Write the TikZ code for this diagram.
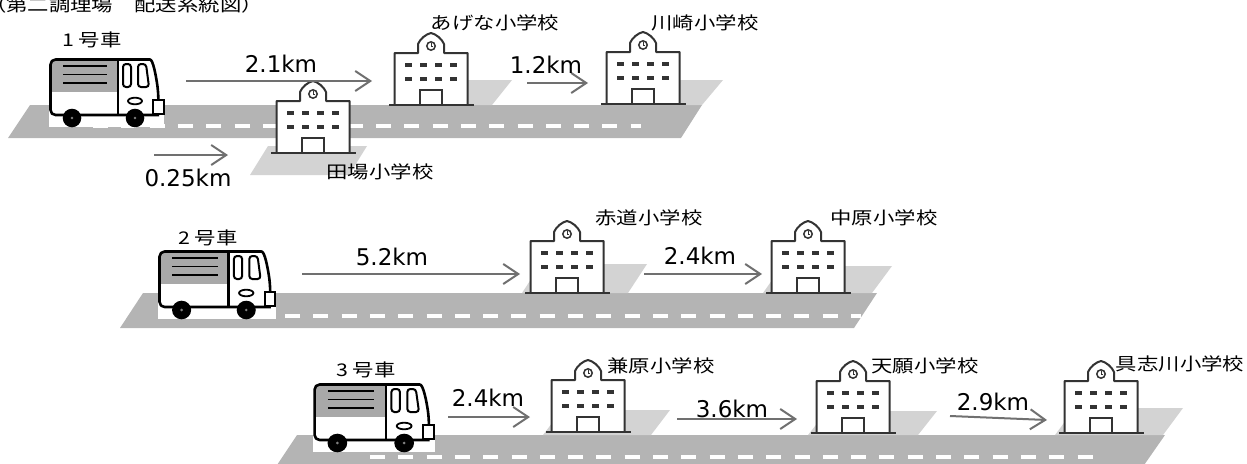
\documentclass[tikz,border=0pt]{standalone}
\usepackage{fontspec}
\usetikzlibrary{arrows.meta}
\newfontfamily\jpfont[FakeStretch=1.22]{Noto Sans CJK JP}
\newfontfamily\kmfont{DejaVu Sans}
\definecolor{roadgray}{HTML}{B4B4B4}
\definecolor{lotgray}{HTML}{D3D3D3}
\definecolor{arrowgray}{HTML}{707070}
\definecolor{ink}{HTML}{333333}
\definecolor{cargogray}{HTML}{A8A8A8}

\tikzset{
  % school building, origin at the middle of its ground line
  school/.pic={
    \draw[ink, line width=2, fill=white, line join=round]
      (-36.5,0) -- (-36.5,-52) -- (-13,-52) -- (-13,-61)
      .. controls (-11,-66) and (-5,-71) .. (0,-72)
      .. controls (5,-71) and (11,-66) .. (13,-61)
      -- (13,-52) -- (36.5,-52) -- (36.5,0);
    \draw[ink, line width=1.5, fill=white] (0,-59) circle (4.2);
    \draw[ink, line width=1] (0,-59) -- (0,-62) (0,-59) -- (2.2,-59);
    \foreach \wx in {-22.5,-7.5,7.5,22.5}
      \foreach \wy in {-40,-26}
        \fill[ink] (\wx-3.5,\wy-2.2) rectangle (\wx+3.5,\wy+2.2);
    \draw[ink, line width=2] (-11,0) -- (-11,-15) -- (11,-15) -- (11,0);
    \draw[ink, line width=2.5] (-42,0) -- (43,0);
  },
  % delivery truck, origin at the top left corner of its white box
  truck/.pic={
    \fill[white] (0,0) rectangle (115,69);
    \fill[cargogray, rounded corners=5] (1.5,1.5) rectangle (69,45);
    \fill[white] (1.5,34) rectangle (69,56);
    \draw[black, line width=1.6] (14,8) -- (58,8) (14,16.5) -- (58,16.5) (14,25) -- (58,25);
    \draw[black, line width=2.6, rounded corners=5, line join=round]
      (110,57) -- (1.5,57) -- (1.5,1.5) -- (96,1.5)
      .. controls (104,1.5) and (107,18) .. (109,32) -- (110,57);
    \draw[black, line width=2.6] (69,1.5) -- (69,57);
    \draw[black, line width=2, rounded corners=3] (74,6) rectangle (82,29);
    \draw[black, line width=2, rounded corners=3] (89,6) -- (97,6) -- (100,29) -- (89,29) -- cycle;
    \draw[black, line width=1.8] (86,43) ellipse [x radius=7, y radius=3.3];
    \draw[black, line width=2, fill=white] (104,42) rectangle (114.5,56);
    \fill[black] (23,60) circle (9.3) (86,60) circle (9.3);
    \fill[gray] (23,60) circle (1.4) (86,60) circle (1.4);
  },
  road/.style={fill=roadgray},
  lot/.style={fill=lotgray},
  lane/.style={white, line width=4.5, dash pattern=on 15 off 13.3},
  dist/.style={arrowgray, line width=2,
    -{Straight Barb[length=15, width=20, line width=2]}},
  kmlabel/.style={font=\kmfont\fontsize{23}{26}\selectfont, inner sep=0},
  jplabel/.style={font=\jpfont\fontsize{17.5}{20}\selectfont, inner sep=0},
}

\begin{document}
\begin{tikzpicture}[x=1pt, y=-1pt]
  \useasboundingbox (0,0) rectangle (1247,463);
  \clip (0,0) rectangle (1247,463);

  % title
  \node[jplabel, anchor=base west] (title) at (-15,11) {（第二調理場　配送系統図）};

  % roads
  \fill[road] (30,105) -- (702,105) -- (681,138) -- (8,138) -- cycle;
  \fill[road] (143,293) -- (877,293) -- (854,328) -- (120,328) -- cycle;
  \fill[road] (297,435) -- (1165,435) -- (1142,468) -- (275,468) -- cycle;

  % school lots
  \fill[lot] (400,80) -- (512,80) -- (492,105) -- (400,105) -- cycle;
  \fill[lot] (612,80) -- (723,80) -- (702,105) -- (612,105) -- cycle;
  \fill[lot] (268,146) -- (367,146) -- (349,175) -- (250,175) -- cycle;
  \fill[lot] (541,264) -- (647,264) -- (628,293) -- (522,293) -- cycle;
  \fill[lot] (782,266) -- (892,266) -- (872,293) -- (763,293) -- cycle;
  \fill[lot] (562,410) -- (670,410) -- (651,435) -- (543,435) -- cycle;
  \fill[lot] (827,411) -- (937,411) -- (918,435) -- (808,435) -- cycle;
  \fill[lot] (1075,408) -- (1183,408) -- (1163,435) -- (1055,435) -- cycle;

  % lane markings
  \draw[lane] (93,126) -- (641,126);
  \draw[lane] (285,316) -- (861,316);
  \draw[lane] (370,457) -- (1103,457);

  % schools
  \pic (tabaS)   at (313,153) {school};
  \pic (agenaS)  at (431,105) {school};
  \pic (kawaS)   at (643,104) {school};
  \pic (akamS)   at (567,293) {school};
  \pic (nakaS)   at (808,293) {school};
  \pic (kanebS)  at (588,432) {school};
  \pic (tengS)   at (853,433) {school};
  \pic (gushS)   at (1101,433) {school};

  % trucks
  \pic (truckA) at (49,58) {truck};
  \pic[xscale=1.026] (truckB) at (158,250) {truck};
  \pic[xscale=1.06] (truckC) at (313,383) {truck};

  % distance arrows
  \coordinate (a1s) at (186,81);  \coordinate (a1e) at (372,81);
  \coordinate (a2s) at (527,83);  \coordinate (a2e) at (588,83);
  \coordinate (a3s) at (154,155); \coordinate (a3e) at (228,155);
  \coordinate (b1s) at (302,274); \coordinate (b1e) at (520,274);
  \coordinate (b2s) at (644,274); \coordinate (b2e) at (762,274);
  \coordinate (c1s) at (448,417); \coordinate (c1e) at (530,417);
  \coordinate (c2s) at (677,419); \coordinate (c2e) at (797,419);
  \coordinate (c3s) at (950,416); \coordinate (c3e) at (1047,420);
  \draw[dist] (a1s) -- (a1e);
  \draw[dist] (a2s) -- (a2e);
  \draw[dist] (a3s) -- (a3e);
  \draw[dist] (b1s) -- (b1e);
  \draw[dist] (b2s) -- (b2e);
  \draw[dist] (c1s) -- (c1e);
  \draw[dist] (c2s) -- (c2e);
  \draw[dist] (c3s) -- (c3e);

  % distance labels
  \node[kmlabel] (d1) at (281,64) {2.1km};
  \node[kmlabel] (d2) at (546,65) {1.2km};
  \node[kmlabel] (d3) at (188,178) {0.25km};
  \node[kmlabel] (d4) at (392,257) {5.2km};
  \node[kmlabel] (d5) at (700,256) {2.4km};
  \node[kmlabel] (d6) at (488,398) {2.4km};
  \node[kmlabel] (d7) at (732,409) {3.6km};
  \node[kmlabel] (d8) at (993,402) {2.9km};

  % truck and school names
  \node[jplabel] (n1) at (92,40) {1 号車};
  \node[jplabel] (n2) at (208,238) {2 号車};
  \node[jplabel] (n3) at (366,370) {3 号車};
  \node[jplabel] (s1) at (495,23) {あげな小学校};
  \node[jplabel] (s2) at (705,23) {川崎小学校};
  \node[jplabel] (s3) at (380,172) {田場小学校};
  \node[jplabel] (s4) at (649,218) {赤道小学校};
  \node[jplabel] (s5) at (884,218) {中原小学校};
  \node[jplabel] (s6) at (661,366) {兼原小学校};
  \node[jplabel] (s7) at (925,366) {天願小学校};
  \node[jplabel] (s8) at (1180,364) {具志川小学校};
\end{tikzpicture}
\end{document}
